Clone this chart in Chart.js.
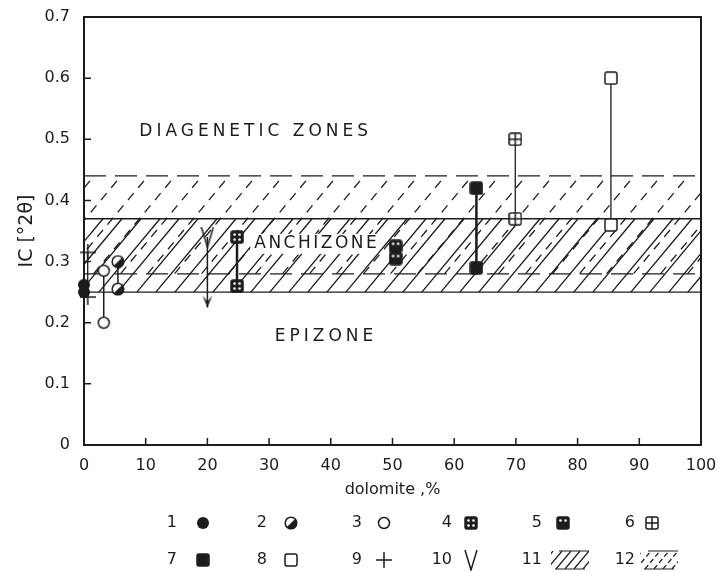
<!DOCTYPE html>
<html>
<head>
<meta charset="utf-8">
<script src="https://cdn.jsdelivr.net/npm/chart.js@4.4.1/dist/chart.umd.min.js"></script>
<style>
  html, body { margin: 0; background: #fff; }
  #wrap { width: 720px; height: 573px; }
</style>
</head>
<body>
<div id="wrap"><canvas id="chart"></canvas></div>
<script>
// x = dolomite %, y = IC [°2θ]; each sample is a pair joined by a vertical line
const s1X = [0, 0];       const s1Y = [0.262, 0.25];
const s2X = [5.5, 5.5];   const s2Y = [0.30, 0.255];
const s3X = [3.2, 3.2];   const s3Y = [0.285, 0.20];
const s4X = [24.8, 24.8]; const s4Y = [0.34, 0.26];
const s5X = [50.5, 50.5]; const s5Y = [0.325, 0.305];
const s6X = [69.9, 69.9]; const s6Y = [0.50, 0.37];
const s7X = [63.6, 63.6]; const s7Y = [0.42, 0.29];
const s8X = [85.4, 85.4]; const s8Y = [0.60, 0.36];
const s9X = [0.6, 0.6];   const s9Y = [0.315, 0.242];
const s10X = [20, 20];    const s10Y = [0.34, 0.225];

// zone limits
const zone11 = [0.25, 0.37];   // solid hatch
const zone12 = [0.28, 0.44];   // dashed hatch
const zoneLabels = ['DIAGENETIC ZONES', 'ANCHIZONE', 'EPIZONE'];
const zoneLabelX = [27.5, 37.4, 38.9];
const zoneLabelY = [0.512, 0.329, 0.178];
const zoneSpacing = ['4px', '2.5px', '4px'];

const legendNums = ['1', '2', '3', '4', '5', '6', '7', '8', '9', '10', '11', '12'];

const xTicks = [0, 10, 20, 30, 40, 50, 60, 70, 80, 90, 100];
const yTicks = [0, 0.1, 0.2, 0.3, 0.4, 0.5, 0.6, 0.7];

const INK = '#1c1c1c';
const FONT = '"DejaVu Sans", sans-serif';

function mk(w, h, draw) {
  const c = document.createElement('canvas');
  c.width = w; c.height = h;
  const g = c.getContext('2d');
  g.strokeStyle = INK; g.fillStyle = INK; g.lineWidth = 1.5;
  draw(g, w, h);
  return c;
}

function sq(g, w, h, fill) {
  g.beginPath();
  g.roundRect(1, 1, w - 2, h - 2, 2);
  g.fillStyle = fill;
  g.fill();
  g.stroke();
}

function dots(g, pts) {
  g.fillStyle = '#fff';
  pts.forEach(p => { g.beginPath(); g.arc(p[0], p[1], 1.3, 0, Math.PI * 2); g.fill(); });
}

const mark = {
  1: mk(14, 14, g => { g.beginPath(); g.arc(7, 7, 6, 0, Math.PI * 2); g.fill(); }),
  2: mk(14, 14, g => {
    g.beginPath(); g.arc(7, 7, 5.8, 0, Math.PI * 2); g.fillStyle = '#fff'; g.fill(); g.stroke();
    g.beginPath(); g.arc(7, 7, 5.8, -Math.PI / 4, Math.PI * 3 / 4); g.closePath(); g.fillStyle = INK; g.fill();
  }),
  3: mk(14, 14, g => { g.beginPath(); g.arc(7, 7, 5.5, 0, Math.PI * 2); g.fillStyle = '#fff'; g.fill(); g.stroke(); }),
  4: mk(14, 14, (g, w, h) => { sq(g, w, h, INK); dots(g, [[4.5, 4.5], [9.5, 4.5], [4.5, 9.5], [9.5, 9.5]]); }),
  5: mk(14, 14, (g, w, h) => { sq(g, w, h, INK); dots(g, [[4.5, 4.5], [9.5, 4.5]]); }),
  6: mk(14, 14, (g, w, h) => {
    sq(g, w, h, '#fff');
    g.beginPath(); g.moveTo(7, 1); g.lineTo(7, 13); g.moveTo(1, 7); g.lineTo(13, 7); g.stroke();
  }),
  7: mk(14, 14, (g, w, h) => sq(g, w, h, INK)),
  8: mk(14, 14, (g, w, h) => sq(g, w, h, '#fff')),
  9: mk(16, 16, g => { g.beginPath(); g.moveTo(8, 0); g.lineTo(8, 16); g.moveTo(0, 8); g.lineTo(16, 8); g.stroke(); }),
  10: mk(14, 22, g => { g.beginPath(); g.moveTo(1, 1); g.lineTo(7, 21); g.lineTo(13, 1); g.stroke(); }),
  arrow: mk(12, 36, g => {
    g.beginPath(); g.moveTo(1, 6); g.lineTo(6, 18); g.lineTo(11, 6); g.lineTo(6, 12); g.closePath(); g.fill();
  })
};

function pairs(xs, ys) {
  return xs.map((x, i) => ({ x: x, y: ys[i] }));
}

function series(xs, ys, style, width) {
  return {
    data: pairs(xs, ys),
    showLine: true,
    clip: false,
    borderColor: INK,
    borderWidth: width,
    pointStyle: style,
    pointRadius: 7,
    pointHoverRadius: 7
  };
}

const datasets = [
  series(s9X, s9Y, mark[9], 1.3),
  series(s1X, s1Y, mark[1], 1.5),
  series(s3X, s3Y, mark[3], 1.5),
  series(s2X, s2Y, mark[2], 1.5),
  series(s10X, s10Y, [mark[10], mark.arrow], 1.5),
  series(s4X, s4Y, mark[4], 2.5),
  series(s5X, s5Y, mark[5], 2),
  series(s7X, s7Y, mark[7], 2.5),
  series(s6X, s6Y, mark[6], 1.3),
  series(s8X, s8Y, mark[8], 1.3)
];

function hatch(ctx, x0, x1, yTop, yBot, gap, dash, shift) {
  const slope = 1.2;
  const span = (yBot - yTop) / slope;
  ctx.save();
  ctx.beginPath();
  ctx.rect(x0, yTop, x1 - x0, yBot - yTop);
  ctx.clip();
  ctx.setLineDash(dash);
  ctx.lineWidth = 1.3;
  ctx.strokeStyle = INK;
  ctx.beginPath();
  for (let x = x0 - span + shift; x < x1 + gap; x += gap) {
    ctx.moveTo(x, yBot);
    ctx.lineTo(x + span, yTop);
  }
  ctx.stroke();
  ctx.restore();
}

function hline(ctx, area, y, dash) {
  ctx.save();
  ctx.setLineDash(dash);
  ctx.lineWidth = 1.3;
  ctx.strokeStyle = INK;
  ctx.beginPath();
  ctx.moveTo(area.left, y);
  ctx.lineTo(area.right, y);
  ctx.stroke();
  ctx.restore();
}

const zonesPlugin = {
  id: 'zones',
  beforeDatasetsDraw(chart) {
    const { ctx, chartArea: a, scales: { x, y } } = chart;
    const s11 = zone11.map(v => y.getPixelForValue(v));
    const s12 = zone12.map(v => y.getPixelForValue(v));
    hatch(ctx, a.left, a.right, s11[1], s11[0], 19, [], 0);
    hatch(ctx, a.left, a.right, s12[1], s12[0], 27, [9, 7], 10);
    hline(ctx, a, s11[0], []);
    hline(ctx, a, s11[1], []);
    hline(ctx, a, s12[0], [22, 9]);
    hline(ctx, a, s12[1], [22, 9]);

    ctx.save();
    ctx.fillStyle = INK;
    ctx.font = '17px ' + FONT;
    ctx.textAlign = 'center';
    ctx.textBaseline = 'middle';
    zoneLabels.forEach((t, i) => {
      ctx.letterSpacing = zoneSpacing[i];
      const px = x.getPixelForValue(zoneLabelX[i]);
      const py = y.getPixelForValue(zoneLabelY[i]);
      if (i === 1) {
        const w = ctx.measureText(t).width;
        ctx.fillStyle = '#fff';
        ctx.fillRect(px - w / 2 - 2, py - 10, w + 2, 20);
        ctx.fillStyle = INK;
      }
      ctx.fillText(t, px + 2, py);
    });
    ctx.restore();
  },
  afterDraw(chart) {
    const { ctx, chartArea: a, scales: { x, y } } = chart;
    ctx.save();
    ctx.strokeStyle = INK;
    ctx.lineWidth = 2;
    ctx.strokeRect(a.left, a.top, a.right - a.left, a.bottom - a.top);
    ctx.lineWidth = 1.5;
    ctx.beginPath();
    xTicks.slice(1, -1).forEach(v => {
      const px = x.getPixelForValue(v);
      ctx.moveTo(px, a.bottom); ctx.lineTo(px, a.bottom - 7);
    });
    yTicks.slice(1, -1).forEach(v => {
      const py = y.getPixelForValue(v);
      ctx.moveTo(a.left, py); ctx.lineTo(a.left + 7, py);
    });
    ctx.stroke();

    // legend
    ctx.fillStyle = INK;
    ctx.font = '16px ' + FONT;
    ctx.textAlign = 'right';
    ctx.textBaseline = 'middle';
    const numX = [177, 267, 362, 452, 542, 635];
    const markX = [203, 291, 384, 471, 563, 652];
    const rowY = [523, 560];
    legendNums.forEach((n, i) => {
      const col = i % 6, row = Math.floor(i / 6);
      const ly = rowY[row];
      ctx.fillText(n, numX[col], ly);
      if (i < 10) {
        const m = mark[i + 1];
        ctx.drawImage(m, markX[col] - m.width / 2, ly - m.height / 2);
      } else {
        const hx = markX[col] - 12;
        hatch(ctx, hx, hx + 38, ly - 9, ly + 9, 9, i === 10 ? [] : [5, 3], 2);
        ctx.save();
        ctx.strokeStyle = INK;
        ctx.lineWidth = 1.2;
        ctx.beginPath();
        ctx.moveTo(hx + 4, ly + 9); ctx.lineTo(hx + 34, ly + 9);
        ctx.moveTo(hx + 8, ly - 9); ctx.lineTo(hx + 38, ly - 9);
        ctx.stroke();
        ctx.restore();
      }
    });
    ctx.restore();
  }
};

new Chart(document.getElementById('chart'), {
  type: 'scatter',
  data: { datasets: datasets },
  plugins: [zonesPlugin],
  options: {
    responsive: true,
    maintainAspectRatio: false,
    animation: false,
    layout: { padding: { top: 17, right: 19, bottom: 68, left: 0 } },
    plugins: { legend: { display: false }, tooltip: { enabled: false } },
    scales: {
      x: {
        type: 'linear', min: 0, max: 100,
        afterBuildTicks: s => { s.ticks = xTicks.map(v => ({ value: v })); },
        afterFit: s => { s.height = 60; s.paddingLeft = 0; s.paddingRight = 0; },
        grid: { display: false, drawTicks: false },
        border: { display: false },
        ticks: { color: INK, font: { family: FONT, size: 16 }, padding: 11, maxRotation: 0 },
        title: { display: true, text: 'dolomite ,%', color: INK, font: { family: FONT, size: 16 }, padding: { top: 0, bottom: 6 } }
      },
      y: {
        type: 'linear', min: 0, max: 0.7,
        afterBuildTicks: s => { s.ticks = yTicks.map(v => ({ value: v })); },
        afterFit: s => { s.width = 84; s.paddingTop = 0; s.paddingBottom = 0; },
        grid: { display: false, drawTicks: false },
        border: { display: false },
        ticks: { color: INK, font: { family: FONT, size: 16 }, padding: 14, callback: v => v === 0 ? '0' : v.toFixed(1) },
        title: { display: true, text: 'IC [°2θ]', color: INK, font: { family: FONT, size: 19 }, padding: { top: 16, bottom: 0 } }
      }
    }
  }
});
</script>
</body>
</html>
